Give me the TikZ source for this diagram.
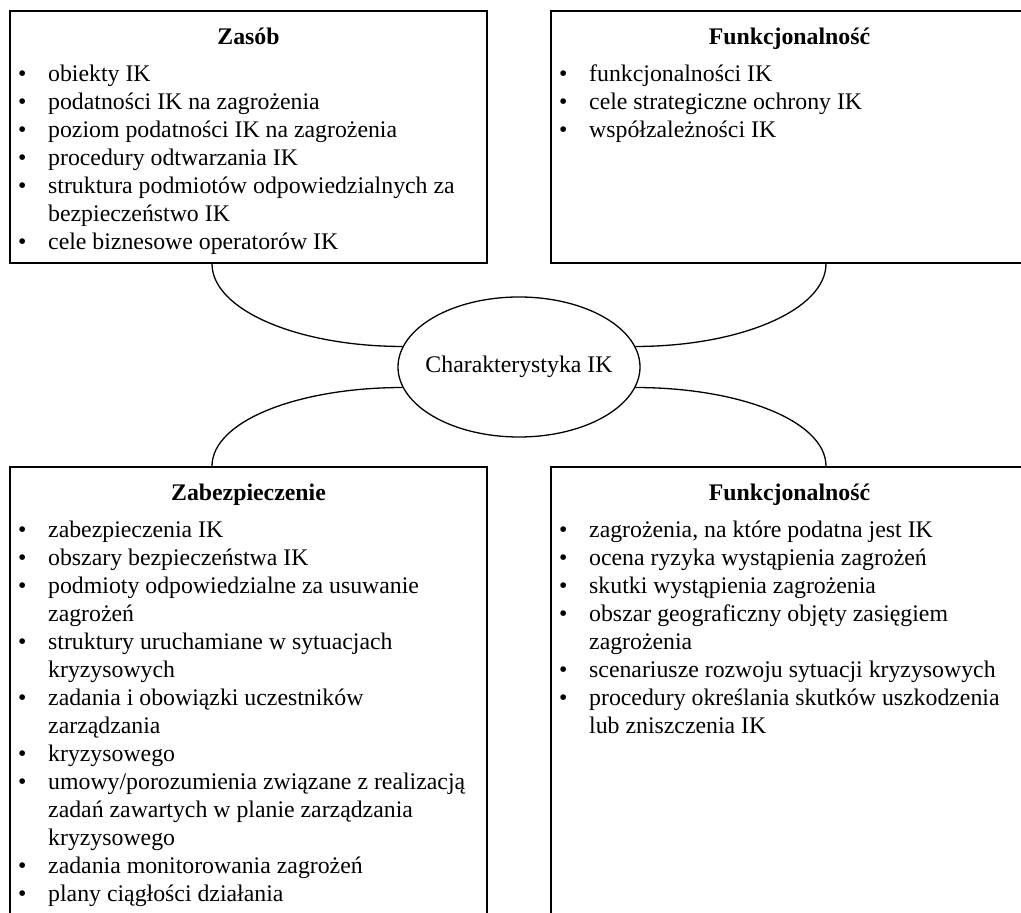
\documentclass[tikz,border=0pt]{standalone}
\usepackage{fontspec}
\setmainfont{Liberation Serif}
\usetikzlibrary{shapes.geometric}

% one bulleted line and one continuation line of a list
\newcommand\bitem[1]{\makebox[30pt][l]{\textbullet}#1\strut}
\newcommand\citem[1]{\hspace*{30pt}#1\strut}

\begin{document}
\begin{tikzpicture}[x=1pt,y=1pt,
  box/.style={draw, line width=1.6pt, rectangle, minimum width=477pt, inner sep=0pt},
  heading/.style={font=\fontsize{23.8}{28}\selectfont\bfseries, anchor=base, inner sep=0pt},
  items/.style={font=\fontsize{23.8}{28}\selectfont, align=left, anchor=north west, inner sep=0pt},
  hub/.style={draw, ellipse, line width=1.3pt, minimum width=242pt, minimum height=140pt,
              inner sep=0pt, font=\fontsize{23.8}{28}\selectfont},
  link/.style={line width=1.3pt}]
\useasboundingbox (0,0) rectangle (1021,913);
\clip (0,0) rectangle (1021,913);
\fill[white] (0,0) rectangle (1021,913);

% the four boxes (the right and bottom ones run past the page edge)
\node[box, minimum height=252pt] (tl) at (248.5,776) {};
\node[box, minimum height=252pt] (tr) at (789.5,776) {};
\node[box, minimum height=506pt] (bl) at (248.5,193) {};
\node[box, minimum height=506pt] (br) at (789.5,193) {};

% centre
\node[hub] (ch) at (519,546) {\makebox[0pt]{Charakterystyka IK}};

% headings
\node[heading] (tlh) at (248.5,868) {Zasób};
\node[heading] (trh) at (789.5,868) {Funkcjonalność};
\node[heading] (blh) at (248.5,412) {Zabezpieczenie};
\node[heading] (brh) at (789.5,412) {Funkcjonalność};

% lists
\node[items] (tll) at (18,851.6) {%
  \bitem{obiekty IK}\\
  \bitem{podatności IK na zagrożenia}\\
  \bitem{poziom podatności IK na zagrożenia}\\
  \bitem{procedury odtwarzania IK}\\
  \bitem{struktura podmiotów odpowiedzialnych za}\\
  \citem{bezpieczeństwo IK}\\
  \bitem{cele biznesowe operatorów IK}};

\node[items] (trl) at (559,851.6) {%
  \bitem{funkcjonalności IK}\\
  \bitem{cele strategiczne ochrony IK}\\
  \bitem{współzależności IK}};

\node[items] (bll) at (18,395.6) {%
  \bitem{zabezpieczenia IK}\\
  \bitem{obszary bezpieczeństwa IK}\\
  \bitem{podmioty odpowiedzialne za usuwanie}\\
  \citem{zagrożeń}\\
  \bitem{struktury uruchamiane w sytuacjach}\\
  \citem{kryzysowych}\\
  \bitem{zadania i obowiązki uczestników}\\
  \citem{zarządzania}\\
  \bitem{kryzysowego}\\
  \bitem{umowy/porozumienia związane z realizacją}\\
  \citem{zadań zawartych w planie zarządzania}\\
  \citem{kryzysowego}\\
  \bitem{zadania monitorowania zagrożeń}\\
  \bitem{plany ciągłości działania}};

\node[items] (brl) at (559,395.6) {%
  \bitem{zagrożenia, na które podatna jest IK}\\
  \bitem{ocena ryzyka wystąpienia zagrożeń}\\
  \bitem{skutki wystąpienia zagrożenia}\\
  \bitem{obszar geograficzny objęty zasięgiem}\\
  \citem{zagrożenia}\\
  \bitem{scenariusze rozwoju sytuacji kryzysowych}\\
  \bitem{procedury określania skutków uszkodzenia}\\
  \citem{lub zniszczenia IK}};

% curved links from the boxes to the centre
\draw[link] ([xshift=-36.5pt]tl.south) .. controls +(0,-46) and +(-105,0) .. (ch.170);
\draw[link] ([xshift=36.5pt]tr.south) .. controls +(0,-46) and +(105,0) .. (ch.10);
\draw[link] (ch.190) .. controls +(-105,0) and +(0,45) .. ([xshift=-36.5pt]bl.north);
\draw[link] (ch.350) .. controls +(105,0) and +(0,45) .. ([xshift=36.5pt]br.north);
\end{tikzpicture}
\end{document}
